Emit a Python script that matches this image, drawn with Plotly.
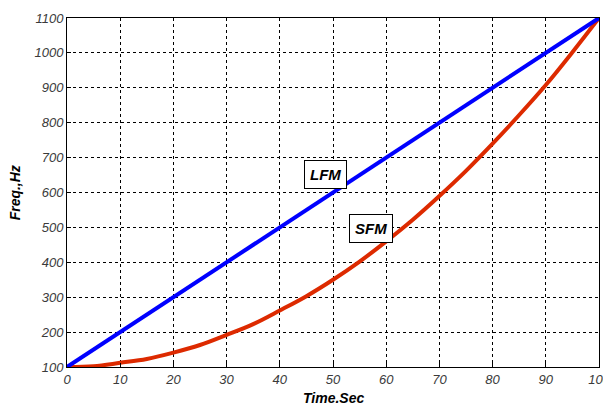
import plotly.graph_objects as go

time_sec = [0, 5, 10, 15, 20, 25, 30, 35, 40, 45, 50, 55, 60, 65, 70, 75, 80, 85, 90, 95, 100]
lfm_hz = [100, 150, 200, 250, 300, 350, 400, 450, 500, 550, 600, 650, 700, 750, 800, 850, 900, 950, 1000, 1050, 1100]
sfm_hz = [100, 102, 112, 123, 141, 163, 192, 223, 262, 303, 350, 402, 460, 522, 590, 662, 740, 822, 908, 1002, 1100]
x_ticks = [0, 10, 20, 30, 40, 50, 60, 70, 80, 90, 100]
y_ticks = [100, 200, 300, 400, 500, 600, 700, 800, 900, 1000, 1100]

fig = go.Figure()
fig.add_trace(go.Scatter(x=time_sec, y=sfm_hz, mode="lines", line=dict(color="#dd2a00", width=4, shape="spline"), name="SFM"))
fig.add_trace(go.Scatter(x=time_sec, y=lfm_hz, mode="lines", line=dict(color="#0000ff", width=4), name="LFM"))

tickfont = dict(family="Liberation Sans, Arial", size=13, color="#3a3a3a")
common = dict(showgrid=True, gridcolor="black", griddash="3px,3px", gridwidth=1, showline=True,
              linecolor="black", linewidth=1, mirror=True, ticks="inside", ticklen=4,
              tickcolor="black", zeroline=False, tickfont=tickfont, automargin=False)
fig.update_xaxes(range=[0, 100], tickvals=x_ticks, ticktext=[f"<i>{v}</i>" for v in x_ticks], **common)
fig.update_yaxes(range=[100, 1100], tickvals=y_ticks, ticktext=[f"<i>{v}</i>" for v in y_ticks], **common)

titlefont = dict(family="Liberation Sans, Arial", size=14, color="black")
fig.add_annotation(xref="paper", yref="paper", x=0.5, y=-0.089, text="<b><i>Time.Sec</i></b>",
                   showarrow=False, font=titlefont, yanchor="middle")
fig.add_annotation(xref="paper", yref="paper", x=-0.098, y=0.5, text="<b><i>Freq.,Hz</i></b>",
                   showarrow=False, font=titlefont, textangle=-90, xanchor="center")

for txt, x, y in [("LFM", 48.5, 653), ("SFM", 57.1, 498)]:
    fig.add_annotation(x=x, y=y, text=f"<b><i>{txt}</i></b>", showarrow=False,
                       font=dict(family="Liberation Sans, Arial", size=15, color="black"),
                       bgcolor="white", bordercolor="black", borderwidth=1, borderpad=5)

fig.update_layout(width=603, height=397, margin=dict(l=59, r=12, t=10, b=38),
                  plot_bgcolor="white", paper_bgcolor="white", showlegend=False)
fig.write_html("out.html")
